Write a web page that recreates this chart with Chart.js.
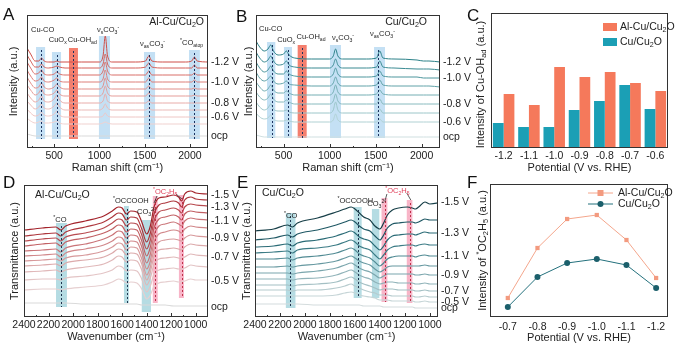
<!DOCTYPE html>
<html>
<head>
<meta charset="utf-8">
<script src="https://cdn.jsdelivr.net/npm/chart.js@4.4.1/dist/chart.umd.min.js"></script>
<style>
  body { margin: 0; background: #fff; width: 685px; height: 350px; position: relative; overflow: hidden; font-family: Arial, "Liberation Sans", sans-serif; }
  canvas { position: absolute; }
  .letra { position: absolute; font-size: 17px; color: #111; line-height: 1; z-index: 2; }
</style>
</head>
<body>
<div class="letra" style="left:3px;top:6px">A</div>
<div class="letra" style="left:236px;top:8px">B</div>
<div class="letra" style="left:467px;top:7px">C</div>
<div class="letra" style="left:3px;top:174px">D</div>
<div class="letra" style="left:237px;top:174px">E</div>
<div class="letra" style="left:467px;top:174px">F</div>

<canvas id="graficoA" width="245" height="175" style="left:0;top:0"></canvas>
<canvas id="graficoB" width="245" height="175" style="left:228px;top:0"></canvas>
<canvas id="graficoC" width="230" height="175" style="left:455px;top:0"></canvas>
<canvas id="graficoD" width="245" height="180" style="left:0;top:170px"></canvas>
<canvas id="graficoE" width="245" height="180" style="left:228px;top:170px"></canvas>
<canvas id="graficoF" width="230" height="180" style="left:455px;top:170px"></canvas>

<script>
// ======== DATA: RAMAN (A, B) ========
const ramanX = [200, 240, 290, 330, 360, 390, 440, 500, 530, 560, 620, 800, 1000, 1040, 1065, 1090, 1140, 1400, 1510, 1545, 1580, 1700, 1950, 2020, 2050, 2080, 2200];
const ramanTicks = [500, 1000, 1500, 2000];
const ramanMinor = [250, 750, 1250, 1750];

const offsetsA = [86, 80, 73, 66, 59, 52, 45, 38, 31, 24, 12];
const tracesA = [
    [14, 8, 1, 1, 4, 1, 0, 0, 1, 0, 0, 0, 0, 6, 26, 6, 0, 0, 1, 6, 1, 0, 0, 1, 5, 1, 0],
    [13, 7, 1, 1, 4, 1, 0, 1, 2, 1, 0, 0, 0, 4, 14, 4, 0, 0, 1, 5, 1, 0, 0, 0, 3, 0, 0],
    [13, 7, 1, 2, 5, 1, 0, 1, 3, 1, 0, 0, 0, 4, 13, 4, 0, 0, 0, 4, 0, 0, 0, 0, 2, 0, 0],
    [12, 6, 1, 2, 5, 1, 0, 2, 4, 1, 0, 0, 0, 3, 12, 3, 0, 0, 0, 4, 0, 0, 0, 0, 2, 0, 0],
    [12, 6, 1, 2, 6, 2, 0, 2, 5, 2, 0, 0, 0, 3, 11, 3, 0, 0, 0, 3, 0, 0, 0, 0, 1, 0, 0],
    [11, 6, 1, 3, 7, 2, 1, 3, 6, 2, 0, 0, 0, 3, 10, 3, 0, 0, 0, 3, 0, 0, 0, 0, 1, 0, 0],
    [10, 5, 1, 3, 7, 2, 1, 4, 8, 3, 0, 0, 0, 2, 9, 2, 0, 0, 0, 2, 0, 0, 0, 0, 0, 0, 0],
    [9, 5, 1, 3, 6, 2, 1, 4, 7, 3, 0, 0, 0, 2, 6, 2, 0, 0, 0, 2, 0, 0, 0, 0, 0, 0, 0],
    [8, 4, 1, 2, 5, 2, 1, 3, 6, 2, 0, 0, 0, 1, 4, 1, 0, 0, 0, 1, 0, 0, 0, 0, 0, 0, 0],
    [6, 3, 1, 2, 3, 1, 1, 2, 3, 1, 0, 0, 0, 1, 2, 1, 0, 0, 0, 0, 0, 0, 0, 0, 0, 0, 0],
    [2, 1, 0, 0, 0, 0, 0, 0, 0, 0, 0, 0, 0, 0, 0, 0, 0, 0, 0, 0, 0, 0, 0, 0, 0, 0, 0]
];
const coresA = ["#cf4f48", "#d45f58", "#d96f69", "#dd7e79", "#e18e89", "#e59d99", "#e8aca9", "#ebbab7", "#eec6c4", "#f0d1cf", "#d9d9d9"];
const rotulosA = [[0, "-1.2 V"], [3, "-1.0 V"], [6, "-0.8 V"], [8, "-0.6 V"], [10, "ocp"]];

const offsetsB = [89, 80, 71, 62, 53, 44, 35, 26, 11];
const tracesB = [
    [18, 12, 8, 10, 14, 8, 4, 5, 8, 4, 1, 0, 0, 3, 10, 3, 0, 0, 1, 8, 1, 0, -1, -2, -2, -2, -3],
    [16, 10, 6, 8, 12, 7, 3, 4, 7, 3, 1, 0, 0, 3, 9, 3, 0, 0, 1, 7, 1, 0, -1, -1, -1, -1, -2],
    [15, 9, 5, 7, 11, 6, 3, 3, 6, 3, 1, 0, 0, 3, 9, 3, 0, 0, 1, 6, 1, 0, 0, -1, -1, -1, -1],
    [14, 8, 5, 7, 10, 5, 2, 3, 5, 2, 1, 0, 0, 3, 9, 3, 0, 0, 1, 6, 1, 0, 0, 0, 0, 0, -1],
    [13, 8, 4, 6, 10, 5, 2, 2, 4, 2, 0, 0, 0, 3, 10, 3, 0, 0, 1, 5, 1, 0, 0, 0, 0, 0, 0],
    [12, 7, 4, 6, 10, 5, 2, 2, 4, 2, 0, 0, 0, 3, 10, 3, 0, 0, 0, 5, 0, 0, 0, 0, 0, 0, 0],
    [11, 6, 3, 5, 9, 4, 2, 2, 3, 1, 0, 0, 0, 3, 11, 3, 0, 0, 0, 4, 0, 0, 0, 0, 0, 0, 0],
    [9, 5, 3, 4, 7, 3, 1, 1, 2, 1, 0, 0, 0, 2, 8, 2, 0, 0, 0, 3, 0, 0, 0, 0, 0, 0, 0],
    [2, 1, 0, 0, 1, 0, 0, 0, 0, 0, 0, 0, 0, 0, 0, 0, 0, 0, 0, 0, 0, 0, 0, 0, 0, 0, 0]
];
const coresB = ["#2a8088", "#3a8a92", "#4d969d", "#60a2a8", "#74aeb3", "#88babe", "#9cc6c9", "#b0d1d3", "#cfdfe0"];
const rotulosB = [[0, "-1.2 V"], [2, "-1.0 V"], [5, "-0.8 V"], [7, "-0.6 V"], [8, "ocp"]];

// ======== DATA: BARS (C) ========
const potenciaisC = ["-1.2", "-1.1", "-1.0", "-0.9", "-0.8", "-0.7", "-0.6"];
const alCuC = [54, 43, 81, 71, 76, 65, 57];
const cuC = [25, 21, 21, 38, 47, 63, 39];

// ======== DATA: IR (D, E) ========
const irX = [2400, 2250, 2140, 2100, 2060, 1900, 1750, 1680, 1630, 1600, 1565, 1530, 1480, 1440, 1400, 1370, 1340, 1300, 1250, 1180, 1140, 1115, 1090, 1040, 1000, 900];
const irTicks = [2400, 2200, 2000, 1800, 1600, 1400, 1200, 1000];
const irMinor = [2300, 2100, 1900, 1700, 1500, 1300, 1100];

const tracesD = [
    [87, 89, 90, 87, 91, 96, 101, 106, 110, 109, 103, 106, 105, 95, 83, 91, 110, 119, 120, 122, 120, 116, 123, 126, 124, 123],
    [81, 83, 84, 81, 85, 90, 95, 100, 104, 103, 97, 100, 99, 88, 75, 84, 103, 112, 114, 116, 114, 110, 117, 120, 118, 117],
    [76, 78, 79, 76, 80, 84, 89, 94, 98, 97, 91, 94, 93, 82, 68, 77, 96, 105, 107, 109, 107, 104, 110, 113, 112, 111],
    [71, 73, 74, 71, 75, 79, 84, 88, 92, 91, 85, 88, 87, 76, 61, 70, 89, 98, 100, 102, 100, 97, 103, 106, 105, 104],
    [66, 67, 68, 65, 69, 73, 78, 82, 86, 85, 79, 82, 81, 70, 54, 63, 82, 91, 93, 95, 93, 91, 96, 99, 98, 97],
    [61, 62, 63, 60, 64, 68, 72, 76, 80, 79, 73, 76, 75, 64, 48, 56, 75, 83, 85, 87, 86, 84, 88, 91, 90, 89],
    [56, 57, 58, 56, 59, 62, 66, 70, 74, 73, 67, 70, 69, 58, 42, 50, 68, 75, 77, 78, 77, 76, 79, 82, 81, 80],
    [51, 52, 53, 51, 54, 57, 60, 64, 68, 67, 62, 64, 63, 53, 37, 45, 61, 67, 68, 69, 68, 67, 70, 73, 72, 71],
    [45, 46, 47, 45, 47, 50, 53, 57, 61, 60, 55, 57, 56, 47, 32, 39, 53, 58, 59, 60, 59, 58, 60, 63, 62, 61],
    [37, 38, 38, 37, 39, 41, 44, 47, 51, 50, 46, 47, 46, 38, 25, 31, 43, 47, 48, 49, 48, 48, 49, 52, 51, 50],
    [27, 28, 28, 27, 28, 30, 32, 35, 38, 37, 34, 35, 34, 28, 18, 22, 31, 34, 35, 36, 35, 35, 36, 38, 37, 37],
    [14, 14, 14, 14, 14, 13, 13, 13, 13, 13, 13, 13, 13, 12, 12, 12, 12, 12, 12, 11, 11, 11, 11, 11, 11, 11]
];
const coresD = ["#a3232b", "#ad363c", "#b84b50", "#c26064", "#ca7478", "#d1878a", "#d7999b", "#dcaaab", "#e0b8b9", "#e3c4c5", "#e6cfd0", "#dadada"];
const rotulosD = [[0, "-1.5 V"], [2, "-1.3 V"], [4, "-1.1 V"], [6, "-0.9 V"], [8, "-0.7 V"], [10, "-0.5 V"], [11, "ocp"]];

const tracesE = [
    [86, 88, 92, 90, 94, 99, 105, 108, 110, 108, 104, 100, 97, 91, 88, 94, 102, 107, 109, 110, 109, 108, 110, 115, 113, 115],
    [77, 79, 82, 80, 83, 87, 92, 95, 97, 95, 91, 88, 86, 81, 77, 82, 89, 93, 94, 95, 95, 94, 95, 98, 97, 97],
    [70, 71, 73, 71, 74, 77, 81, 84, 86, 84, 80, 78, 76, 71, 67, 71, 77, 81, 82, 83, 83, 82, 83, 85, 84, 84],
    [64, 65, 66, 64, 67, 69, 72, 75, 77, 75, 71, 69, 67, 62, 58, 62, 67, 70, 71, 72, 72, 71, 72, 73, 72, 72],
    [58, 58, 59, 57, 59, 61, 64, 67, 69, 67, 63, 61, 59, 55, 51, 54, 58, 60, 61, 61, 61, 60, 61, 62, 61, 61],
    [50, 50, 51, 50, 51, 53, 56, 59, 61, 59, 56, 54, 52, 48, 45, 47, 50, 51, 51, 51, 51, 51, 51, 52, 51, 51],
    [44, 44, 44, 43, 44, 46, 49, 52, 54, 52, 49, 47, 45, 42, 39, 41, 43, 43, 43, 43, 43, 42, 42, 43, 42, 42],
    [38, 38, 38, 37, 38, 39, 42, 45, 47, 45, 42, 40, 38, 35, 33, 34, 35, 35, 34, 34, 34, 33, 33, 34, 33, 33],
    [32, 32, 32, 31, 32, 33, 35, 38, 40, 38, 35, 33, 31, 29, 27, 28, 28, 28, 27, 27, 27, 26, 26, 27, 26, 26],
    [27, 27, 27, 26, 27, 27, 29, 31, 33, 31, 29, 27, 25, 24, 22, 22, 22, 21, 21, 21, 21, 20, 20, 21, 20, 20],
    [21, 21, 21, 21, 21, 21, 22, 24, 25, 24, 22, 21, 20, 19, 17, 17, 17, 16, 16, 16, 16, 15, 15, 16, 15, 15],
    [13, 13, 13, 13, 13, 12, 12, 12, 12, 12, 12, 11, 11, 11, 11, 10, 10, 10, 10, 10, 10, 9, 9, 9, 9, 9]
];
const coresE = ["#173f48", "#1f5864", "#2a6b76", "#3b7b85", "#508a93", "#6698a0", "#7ba6ad", "#90b3b9", "#a4c0c4", "#b6cbce", "#c6d5d7", "#d4dcdd"];
const rotulosE = rotulosD;

// ======== DATA: LINES (F) ========
const potenciaisF = [-0.7, -0.8, -0.9, -1.0, -1.1, -1.2];
const alCuF = [19, 69, 98, 102, 77, 39];
const cuF = [10, 40, 54, 58, 52, 29];

// ======== TEXT WITH SUB/SUPERSCRIPT ========
const FONT = 'Arial, "Liberation Sans", sans-serif';
Chart.defaults.font.family = FONT;
Chart.defaults.color = "#222";

function partes(str) {
    const out = [];
    const re = /([_^])\{([^}]*)\}/g;
    let ultimo = 0, m;
    while ((m = re.exec(str))) {
        if (m.index > ultimo) out.push({ t: str.slice(ultimo, m.index), modo: 0 });
        out.push({ t: m[2], modo: m[1] === "_" ? 1 : 2 });
        ultimo = re.lastIndex;
    }
    if (ultimo < str.length) out.push({ t: str.slice(ultimo), modo: 0 });
    return out;
}

function textoRico(ctx, str, x, y, size, align, cor) {
    const ps = partes(str);
    const pequeno = size * 0.68;
    let w = 0;
    ps.forEach(p => {
        ctx.font = (p.modo ? pequeno : size) + "px " + FONT;
        p.w = ctx.measureText(p.t).width;
        w += p.w;
    });
    let cx = align === "center" ? x - w / 2 : align === "right" ? x - w : x;
    ctx.fillStyle = cor || "#222";
    ctx.textAlign = "left";
    ctx.textBaseline = "middle";
    ps.forEach(p => {
        ctx.font = (p.modo ? pequeno : size) + "px " + FONT;
        const dy = p.modo === 1 ? size * 0.3 : p.modo === 2 ? -size * 0.35 : 0;
        ctx.fillText(p.t, cx, y + dy);
        cx += p.w;
    });
}

// ======== DECORATION PLUGIN: bands, notes, side labels, box ========
const deco = {
    id: "deco",
    beforeDatasetsDraw(chart, args, o) {
        if (!o.bands) return;
        const { ctx, chartArea: ca } = chart;
        const x = chart.scales.x, y = chart.scales.y;
        ctx.save();
        ctx.beginPath();
        ctx.rect(ca.left, ca.top, ca.width, ca.height);
        ctx.clip();
        o.bands.forEach(b => {
            const x1 = x.getPixelForValue(b.de), x2 = x.getPixelForValue(b.ate);
            const y1 = y.getPixelForValue(b.topo), y2 = y.getPixelForValue(b.base);
            ctx.fillStyle = b.cor;
            ctx.fillRect(Math.min(x1, x2), y1, Math.abs(x2 - x1), y2 - y1);
        });
        ctx.restore();
    },
    afterDatasetsDraw(chart, args, o) {
        const { ctx, chartArea: ca } = chart;
        const x = chart.scales.x, y = chart.scales.y;
        ctx.save();

        // dotted lines in the bands
        (o.bands || []).forEach(b => {
            if (b.linha == null) return;
            const px = Math.round(x.getPixelForValue(b.linha)) + 0.5;
            ctx.strokeStyle = b.corLinha;
            ctx.lineWidth = 1;
            ctx.setLineDash([2, 2]);
            ctx.beginPath();
            ctx.moveTo(px, y.getPixelForValue(b.topo) + 3);
            ctx.lineTo(px, y.getPixelForValue(b.base));
            ctx.stroke();
        });
        ctx.setLineDash([]);

        (o.guias || []).forEach(g => {
            ctx.strokeStyle = "#333";
            ctx.lineWidth = 0.8;
            ctx.beginPath();
            ctx.moveTo(x.getPixelForValue(g[0]), y.getPixelForValue(g[1]));
            ctx.lineTo(x.getPixelForValue(g[2]), y.getPixelForValue(g[3]));
            ctx.stroke();
        });

        (o.textos || []).forEach(t => {
            textoRico(ctx, t.t, x.getPixelForValue(t.x), y.getPixelForValue(t.y), t.size || 7.5, t.align || "left", t.cor);
        });

        // labels at the right end of the traces
        (o.rotulos || []).forEach(r => {
            const d = chart.data.datasets[r[0]].data;
            const py = y.getPixelForValue(d[d.length - 1].y) + (o.dyRotulo || 0);
            textoRico(ctx, r[1], ca.right + 3, py, 10.5, "left");
        });

        // box
        ctx.strokeStyle = "#333";
        ctx.lineWidth = 1;
        ctx.strokeRect(ca.left + 0.5, ca.top + 0.5, ca.width - 1, ca.height - 1);

        // inward ticks
        if (o.marcas) {
            o.marcas.major.forEach(v => {
                const px = Math.round(x.getPixelForValue(v)) + 0.5;
                ctx.beginPath(); ctx.moveTo(px, ca.bottom); ctx.lineTo(px, ca.bottom - 4); ctx.stroke();
            });
            o.marcas.minor.forEach(v => {
                const px = Math.round(x.getPixelForValue(v)) + 0.5;
                ctx.beginPath(); ctx.moveTo(px, ca.bottom); ctx.lineTo(px, ca.bottom - 2); ctx.stroke();
            });
        }

        if (o.tituloY) {
            ctx.save();
            ctx.translate(ca.left - o.tituloY.dx, (ca.top + ca.bottom) / 2 + (o.tituloY.dy || 0));
            ctx.rotate(-Math.PI / 2);
            textoRico(ctx, o.tituloY.t, 0, 0, 11, "center");
            ctx.restore();
        }

        if (o.legenda) {
            o.legenda.ordem.forEach((i, k) => {
                const ds = chart.data.datasets[i];
                if (o.legenda.tipo === "bar") {
                    const ly = ca.top + 14 + k * 15;
                    ctx.fillStyle = ds.backgroundColor;
                    ctx.fillRect(ca.right - 65, ly - 4, 14, 8);
                    textoRico(ctx, ds.label, ca.right - 48, ly, 10.5, "left");
                } else {
                    const ly = ca.top + 9 + k * 11;
                    const x0 = ca.right - 80, x1 = ca.right - 55;
                    ctx.strokeStyle = ds.borderColor;
                    ctx.lineWidth = 1;
                    ctx.beginPath(); ctx.moveTo(x0, ly); ctx.lineTo(x1, ly); ctx.stroke();
                    ctx.fillStyle = ds.pointBackgroundColor;
                    const cx = (x0 + x1) / 2;
                    if (ds.pointStyle === "rect") {
                        ctx.fillRect(cx - 3, ly - 3, 6, 6);
                    } else {
                        ctx.beginPath(); ctx.arc(cx, ly, 3, 0, Math.PI * 2); ctx.fill();
                    }
                    textoRico(ctx, ds.label, ca.right - 50, ly, 10.5, "left");
                }
            });
        }
        ctx.restore();
    }
};

// ======== SPECTRA (A, B, D, E) ========
function graficoEspectro(id, p) {
    const datasets = p.traces.map((tr, i) => ({
        data: p.xs.map((xv, j) => ({ x: xv, y: (p.offsets ? p.offsets[i] : 0) + tr[j] })),
        borderColor: p.cores[i],
        borderWidth: p.lw,
        pointRadius: 0,
        cubicInterpolationMode: "monotone",
        fill: false
    }));
    return new Chart(document.getElementById(id), {
        type: "line",
        data: { datasets: datasets.slice().reverse() },
        options: {
            responsive: false,
            animation: false,
            events: [],
            layout: { padding: p.pad },
            plugins: { legend: { display: false }, tooltip: { enabled: false }, deco: p.deco },
            scales: {
                x: {
                    type: "linear", min: p.xMin, max: p.xMax, reverse: p.reverse,
                    grid: { display: false, drawTicks: false }, border: { display: false },
                    afterBuildTicks: s => { s.ticks = p.ticks.map(v => ({ value: v })); },
                    afterFit: s => { s.height = p.alturaX; },
                    ticks: { autoSkip: false, maxRotation: 0, minRotation: 0, padding: p.padTick, font: { size: 10.5 }, color: "#222", callback: v => String(v) },
                    title: { display: true, text: p.tituloX, font: { size: 11 }, padding: { top: 0, bottom: p.padTitulo }, color: "#222" }
                },
                y: {
                    min: 0, max: p.yMax,
                    grid: { display: false, drawTicks: false }, border: { display: false },
                    ticks: { display: false },
                    afterFit: s => { s.width = p.larguraY; },
                    title: { display: true, text: p.tituloY, font: { size: 11 }, padding: { top: p.padTituloY, bottom: 0 }, color: "#222" }
                }
            }
        },
        plugins: [deco]
    });
}

const azulAB = "rgba(165, 208, 238, 0.65)";
const vermelhoAB = "rgba(242, 105, 85, 0.85)";
const linhaAB = "#1c3360";

// datasets are reversed before drawing, so side labels use reversed indices
function inverte(rotulos, n) { return rotulos.map(r => [n - 1 - r[0], r[1]]); }

graficoEspectro("graficoA", {
    xs: ramanX, traces: tracesA, offsets: offsetsA, cores: coresA, lw: 1,
    xMin: 200, xMax: 2200, reverse: false, ticks: ramanTicks, yMax: 133,
    pad: { left: 0, top: 15, right: 37, bottom: 0 }, alturaX: 27, larguraY: 27,
    padTick: 2, padTitulo: 0, padTituloY: 7,
    tituloX: "Raman shift (cm\u207B\u00B9)", tituloY: "Intensity (a.u.)",
    deco: {
        bands: [
            { de: 300, ate: 400, topo: 101, base: 9, cor: azulAB, linha: 355, corLinha: linhaAB },
            { de: 476, ate: 576, topo: 96, base: 9, cor: azulAB, linha: 535, corLinha: linhaAB },
            { de: 664, ate: 763, topo: 100, base: 9, cor: vermelhoAB, linha: 710, corLinha: linhaAB },
            { de: 995, ate: 1117, topo: 112, base: 9, cor: azulAB },
            { de: 1493, ate: 1615, topo: 96, base: 9, cor: azulAB, linha: 1550, corLinha: linhaAB },
            { de: 1990, ate: 2110, topo: 98, base: 9, cor: azulAB, linha: 2045, corLinha: linhaAB }
        ],
        textos: [
            { t: "Cu-CO", x: 244, y: 118 },
            { t: "CuO_{x}", x: 440, y: 108 },
            { t: "Cu-OH_{ad}", x: 650, y: 108 },
            { t: "\u03BD_{s}CO_{3}^{-}", x: 974, y: 118 },
            { t: "\u03BD_{as}CO_{3}^{-}", x: 1449, y: 104 },
            { t: "^{*}CO_{atop}", x: 1891, y: 105 },
            { t: "Al-Cu/Cu_{2}O", x: 2156, y: 126, align: "right", size: 10.5 }
        ],
        rotulos: inverte(rotulosA, tracesA.length),
        marcas: { major: ramanTicks, minor: ramanMinor }
    }
});

graficoEspectro("graficoB", {
    xs: ramanX, traces: tracesB, offsets: offsetsB, cores: coresB, lw: 1,
    xMin: 200, xMax: 2200, reverse: false, ticks: ramanTicks, yMax: 133,
    pad: { left: 0, top: 15, right: 33, bottom: 0 }, alturaX: 27, larguraY: 28,
    padTick: 2, padTitulo: 0, padTituloY: 14,
    tituloX: "Raman shift (cm\u207B\u00B9)", tituloY: "Intensity (a.u.)",
    deco: {
        bands: [
            { de: 320, ate: 410, topo: 106, base: 10, cor: azulAB, linha: 370, corLinha: linhaAB },
            { de: 504, ate: 591, topo: 101, base: 10, cor: azulAB, linha: 545, corLinha: linhaAB },
            { de: 653, ate: 751, topo: 103, base: 10, cor: vermelhoAB, linha: 703, corLinha: linhaAB },
            { de: 1004, ate: 1124, topo: 103, base: 10, cor: azulAB },
            { de: 1483, ate: 1602, topo: 101, base: 10, cor: azulAB, linha: 1526, corLinha: linhaAB }
        ],
        textos: [
            { t: "Cu-CO", x: 233, y: 119 },
            { t: "CuO_{x}", x: 430, y: 108 },
            { t: "Cu-OH_{ad}", x: 640, y: 111 },
            { t: "\u03BD_{s}CO_{3}^{-}", x: 1026, y: 110 },
            { t: "\u03BD_{as}CO_{3}^{-}", x: 1439, y: 114 },
            { t: "Cu/Cu_{2}O", x: 2059, y: 126, align: "right", size: 10.5 }
        ],
        rotulos: inverte(rotulosB, tracesB.length),
        marcas: { major: ramanTicks, minor: ramanMinor }
    }
});

const azulDE = "rgba(120, 192, 204, 0.55)";
const rosaDE = "rgba(242, 120, 155, 0.55)";
const vermelhoTexto = "#e0405a";

graficoEspectro("graficoD", {
    xs: irX, traces: tracesD, cores: coresD, lw: 1.2,
    xMin: 900, xMax: 2400, reverse: true, ticks: irTicks, yMax: 132,
    pad: { left: 0, top: 15, right: 37, bottom: 0 }, alturaX: 33, larguraY: 24,
    padTick: 2, padTitulo: 6, padTituloY: 8,
    tituloX: "Wavenumber (cm\u207B\u00B9)", tituloY: "Transmittance (a.u.)",
    deco: {
        bands: [
            { de: 2050, ate: 2139, topo: 94, base: 10, cor: azulDE, linha: 2101, corLinha: "#1f3550" },
            { de: 1545, ate: 1585, topo: 111, base: 14, cor: azulDE, linha: 1563, corLinha: "#1f3550" },
            { de: 1365, ate: 1440, topo: 97, base: 5, cor: azulDE },
            { de: 1310, ate: 1350, topo: 121, base: 14, cor: rosaDE, linha: 1331, corLinha: "#c0304a" },
            { de: 1096, ate: 1137, topo: 122, base: 19, cor: rosaDE, linha: 1115, corLinha: "#c0304a" }
        ],
        guias: [[1316, 121, 1340, 114], [1161, 123, 1112, 118]],
        textos: [
            { t: "Al-Cu/Cu_{2}O", x: 2310, y: 122, size: 10.5 },
            { t: "^{*}CO", x: 2107, y: 97, align: "center" },
            { t: "^{*}OCCOOH", x: 1675, y: 116 },
            { t: "CO_{3}^{2-}", x: 1479, y: 105 },
            { t: "^{*}OC_{2}H_{5}", x: 1349, y: 125, cor: vermelhoTexto }
        ],
        rotulos: inverte(rotulosD, tracesD.length),
        dyRotulo: 1,
        marcas: { major: irTicks, minor: irMinor }
    }
});

graficoEspectro("graficoE", {
    xs: irX, traces: tracesE, cores: coresE, lw: 1.2,
    xMin: 935, xMax: 2400, reverse: true, ticks: irTicks, yMax: 132,
    pad: { left: 0, top: 15, right: 35, bottom: 0 }, alturaX: 33, larguraY: 27,
    padTick: 2, padTitulo: 6, padTituloY: 12,
    tituloX: "Wavenumber (cm\u207B\u00B9)", tituloY: "Transmittance (a.u.)",
    deco: {
        bands: [
            { de: 2076, ate: 2153, topo: 104, base: 9, cor: azulDE, linha: 2116, corLinha: "#1f3550" },
            { de: 1546, ate: 1610, topo: 110, base: 19, cor: azulDE, linha: 1578, corLinha: "#1f3550" },
            { de: 1405, ate: 1464, topo: 108, base: 19, cor: azulDE },
            { de: 1340, ate: 1387, topo: 119, base: 15, cor: rosaDE, linha: 1360, corLinha: "#c0304a" },
            { de: 1140, ate: 1185, topo: 117, base: 14, cor: rosaDE, linha: 1162, corLinha: "#c0304a" }
        ],
        guias: [[1344, 123, 1360, 116], [1185, 124, 1153, 117]],
        textos: [
            { t: "Cu/Cu_{2}O", x: 2344, y: 124, size: 10.5 },
            { t: "^{*}CO", x: 2114, y: 101, align: "center" },
            { t: "^{*}OCCOOH", x: 1740, y: 116 },
            { t: "CO_{3}^{2-}", x: 1501, y: 113 },
            { t: "^{*}OC_{2}H_{5}", x: 1358, y: 126, cor: vermelhoTexto }
        ],
        rotulos: inverte(rotulosE, tracesE.length),
        marcas: { major: irTicks, minor: irMinor }
    }
});

// ======== BARS (C) ========
new Chart(document.getElementById("graficoC"), {
    type: "bar",
    data: {
        labels: potenciaisC,
        datasets: [
            { label: "Cu/Cu_{2}O", data: cuC, backgroundColor: "#1b9fb5" },
            { label: "Al-Cu/Cu_{2}O", data: alCuC, backgroundColor: "#f5795b" }
        ]
    },
    options: {
        responsive: false,
        animation: false,
        events: [],
        layout: { padding: { left: 36, top: 13, right: 17, bottom: 0 } },
        datasets: { bar: { categoryPercentage: 0.85, barPercentage: 1 } },
        plugins: {
            legend: { display: false }, tooltip: { enabled: false },
            deco: {
                tituloY: { t: "Intensity of Cu-OH_{ad} (a.u.)", dx: 10, dy: 4 },
                legenda: { tipo: "bar", ordem: [1, 0] }
            }
        },
        scales: {
            x: {
                grid: { display: false, drawTicks: false }, border: { display: false },
                afterFit: s => { s.height = 27; },
                ticks: { padding: 2, font: { size: 10.5 }, color: "#222", maxRotation: 0, autoSkip: false },
                title: { display: true, text: "Potential (V vs. RHE)", font: { size: 11 }, padding: { top: 0, bottom: 0 }, color: "#222" }
            },
            y: { display: false, min: 0, max: 135 }
        }
    },
    plugins: [deco]
});

// ======== LINES (F) ========
new Chart(document.getElementById("graficoF"), {
    type: "line",
    data: {
        datasets: [
            {
                label: "Al-Cu/Cu_{2}O",
                data: potenciaisF.map((p, i) => ({ x: p, y: alCuF[i] })),
                borderColor: "#f4a68c", borderWidth: 1,
                pointStyle: "rect", pointRadius: 3, pointBackgroundColor: "#f39a7f", pointBorderWidth: 0
            },
            {
                label: "Cu/Cu_{2}O",
                data: potenciaisF.map((p, i) => ({ x: p, y: cuF[i] })),
                borderColor: "#23707c", borderWidth: 1,
                pointStyle: "circle", pointRadius: 3, pointBackgroundColor: "#1b5f6b", pointBorderWidth: 0
            }
        ]
    },
    options: {
        responsive: false,
        animation: false,
        events: [],
        layout: { padding: { left: 35, top: 14, right: 17, bottom: 0 } },
        plugins: {
            legend: { display: false }, tooltip: { enabled: false },
            deco: {
                tituloY: { t: "Intensity of ^{*}OC_{2}H_{5} (a.u.)", dx: 7 },
                legenda: { tipo: "line", ordem: [0, 1] }
            }
        },
        scales: {
            x: {
                type: "linear", min: -1.24, max: -0.64, reverse: true,
                grid: { display: false, drawTicks: false }, border: { display: false },
                afterBuildTicks: s => { s.ticks = potenciaisF.map(v => ({ value: v })); },
                afterFit: s => { s.height = 33; },
                ticks: { autoSkip: false, maxRotation: 0, padding: 4, font: { size: 10.5 }, color: "#222", callback: v => v.toFixed(1) },
                title: { display: true, text: "Potential (V vs. RHE)", font: { size: 11 }, padding: { top: 0, bottom: 5 }, color: "#222" }
            },
            y: { display: false, min: 0, max: 133 }
        }
    },
    plugins: [deco]
});
</script>
</body>
</html>
